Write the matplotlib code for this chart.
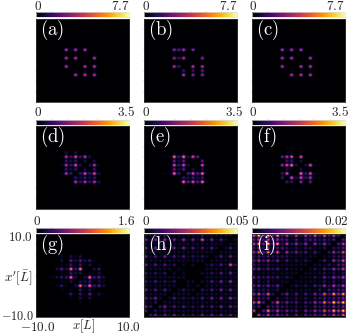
import numpy as np
import matplotlib
matplotlib.use('Agg')
import matplotlib.pyplot as plt

plt.rcParams['mathtext.fontset'] = 'cm'
plt.rcParams['font.family'] = 'serif'

W, H = 349, 334

names = ['(a)', '(b)', '(c)', '(d)', '(e)', '(f)', '(g)', '(h)', '(i)']
vmax_list = [7.7, 7.7, 7.7, 3.5, 3.5, 3.5, 1.6, 0.05, 0.02]
max_labels = ['7.7', '7.7', '7.7', '3.5', '3.5', '3.5', '1.6', '0.05', '0.02']
max_label_x = [120, 228, 335, 126, 234, 340, 126, 237, 336]
zero_label_x = [38, 146, 253, 38, 146, 253, 37, 146, 255]
level_power = [1.25, 1.25, 1.25, 1.25, 1.25, 1.25, 1.25, 1.0, 1.05]

# spots are (site x, site x', level), the mirror spot gets added below
spots_a = [(6, 12, 6), (8, 12, 6), (10, 12, 6), (6, 10, 6), (8, 10, 6), (6, 8, 6),
           (7, 12, 1), (7, 10, 1), (7, 8, 1)]
spots_b = [(6, 12, 5), (7, 12, 4), (8, 12, 6), (10, 12, 5), (6, 10, 5), (7, 10, 3),
           (8, 10, 6), (6, 8, 6), (7, 8, 3)]
spots_c = [(6, 12, 6), (8, 12, 6), (10, 12, 6), (6, 10, 6), (8, 10, 6), (6, 8, 6),
           (7, 12, 1), (7, 10, 1), (7, 8, 1)]
spots_d = [(5, 12, 1), (6, 13, 2), (8, 13, 2), (10, 13, 1), (6, 12, 6), (7, 12, 3), (8, 12, 7),
           (9, 12, 3), (10, 12, 6), (11, 12, 2), (6, 11, 3), (7, 11, 2), (8, 11, 3), (10, 11, 2),
           (5, 10, 1), (6, 10, 6), (7, 10, 3), (8, 10, 7), (9, 10, 2), (6, 9, 3), (7, 9, 2),
           (8, 9, 3), (5, 8, 1), (6, 8, 6), (7, 8, 3)]
spots_e = [(4, 12, 1), (4, 8, 1), (6, 13, 1), (8, 13, 1), (10, 13, 1), (6, 12, 8), (7, 12, 3),
           (8, 12, 8), (9, 12, 2), (10, 12, 7), (11, 12, 4), (6, 11, 4), (7, 11, 2), (8, 11, 4),
           (6, 10, 7), (7, 10, 3), (8, 10, 7), (9, 10, 2), (6, 9, 4), (7, 9, 2), (8, 9, 4),
           (6, 8, 8), (7, 8, 3), (5, 8, 1), (5, 12, 1), (5, 10, 1)]
spots_f = [(7, 14, 1), (8, 14, 1), (10, 14, 1), (7, 13, 1), (8, 13, 1), (10, 13, 1), (6, 12, 4),
           (7, 12, 6), (8, 12, 7), (10, 12, 7), (7, 11, 3), (8, 11, 3), (10, 11, 2), (4, 10, 1),
           (6, 10, 5), (7, 10, 7), (8, 10, 8), (9, 10, 2), (7, 9, 2), (4, 8, 1), (6, 8, 3),
           (7, 8, 7), (6, 7, 3)]
spots_g = [(5, 14, 1), (7, 14, 2), (8, 14, 1), (9, 14, 2), (5, 13, 2), (7, 13, 4), (8, 13, 2),
           (9, 13, 4), (10, 13, 2), (11, 13, 3), (12, 13, 1), (5, 12, 1), (6, 12, 1), (7, 12, 3),
           (8, 12, 1), (9, 12, 3), (10, 12, 1), (11, 12, 2), (4, 11, 2), (5, 11, 4), (6, 11, 2),
           (7, 11, 8), (8, 11, 3), (9, 11, 8), (10, 11, 1), (5, 10, 1), (6, 10, 1), (7, 10, 3),
           (8, 10, 2), (9, 10, 2), (3, 9, 1), (4, 9, 2), (5, 9, 3), (6, 9, 3), (7, 9, 8), (8, 9, 2),
           (5, 8, 1), (7, 8, 2), (4, 7, 1), (5, 7, 3), (6, 7, 1), (5, 6, 1)]

# dense panels: row m holds sites m+1 .. 19
tri_h = [[2, 3, 1, 3, 1, 3, 1, 2, 1, 2, 1, 3, 1, 3, 1, 3, 1, 3, 1],
         [2, 1, 2, 1, 1, 1, 1, 1, 1, 1, 1, 1, 1, 1, 1, 1, 1, 1],
         [2, 4, 1, 3, 1, 3, 1, 2, 1, 3, 1, 3, 1, 4, 1, 4, 2],
         [1, 1, 1, 1, 1, 1, 1, 1, 1, 1, 1, 1, 1, 1, 1, 1],
         [1, 3, 1, 2, 1, 2, 1, 3, 1, 4, 1, 4, 1, 5, 2],
         [1, 1, 1, 1, 0, 1, 1, 1, 1, 1, 1, 1, 1, 1],
         [1, 2, 1, 1, 0, 2, 1, 3, 1, 4, 1, 4, 1],
         [0, 1, 0, 1, 0, 1, 1, 1, 1, 1, 1, 1],
         [1, 1, 0, 1, 1, 3, 1, 4, 1, 5, 1],
         [0, 0, 0, 1, 1, 1, 1, 1, 1, 1],
         [0, 1, 1, 2, 1, 3, 1, 4, 1],
         [0, 1, 1, 1, 1, 1, 1, 1],
         [1, 2, 1, 3, 1, 7, 2],
         [1, 1, 1, 1, 1, 1],
         [1, 3, 1, 4, 1],
         [1, 1, 1, 1],
         [1, 3, 1],
         [1, 1],
         [1]]
tri_i = [[5, 2, 5, 2, 4, 2, 3, 1, 3, 1, 3, 2, 3, 2, 4, 2, 5, 3, 6],
         [3, 8, 3, 6, 2, 4, 2, 3, 1, 4, 2, 5, 3, 7, 4, 9, 6, 10],
         [3, 2, 3, 2, 2, 1, 2, 1, 2, 1, 3, 2, 3, 2, 4, 3, 4],
         [3, 7, 2, 4, 2, 3, 1, 3, 2, 5, 3, 8, 4, 10, 6, 10],
         [2, 1, 2, 1, 2, 1, 2, 1, 2, 2, 3, 2, 3, 3, 4],
         [2, 4, 1, 3, 1, 3, 1, 4, 2, 7, 3, 9, 5, 9],
         [1, 1, 1, 1, 1, 1, 1, 2, 1, 3, 2, 3, 3],
         [1, 2, 1, 2, 1, 3, 2, 5, 2, 6, 3, 6],
         [1, 1, 1, 1, 1, 1, 2, 1, 2, 1, 2],
         [1, 1, 1, 2, 1, 4, 2, 5, 3, 6],
         [1, 1, 1, 1, 2, 1, 2, 1, 2],
         [1, 2, 1, 3, 2, 5, 3, 6],
         [1, 1, 1, 2, 1, 3, 3],
         [1, 3, 1, 5, 3, 7],
         [1, 1, 2, 2, 3],
         [2, 5, 3, 7],
         [2, 2, 3],
         [3, 6],
         [3]]


def from_spots(spots):
    m = np.zeros((20, 20))
    for a, b, v in spots:
        m[b, a] = v
        m[a, b] = v
    return m


def from_tri(rows):
    m = np.zeros((20, 20))
    for i, row in enumerate(rows):
        for j, v in enumerate(row):
            m[i, i + 1 + j] = v
            m[i + 1 + j, i] = v
    return m


tables = [from_spots(s) for s in [spots_a, spots_b, spots_c, spots_d, spots_e, spots_f, spots_g]]
tables += [from_tri(tri_h), from_tri(tri_i)]

col_left = [36, 144, 252]
row_top = [19, 126, 234]
bar_top = [12, 120, 228]
label_base = [9.5, 116, 225]
ax_w, ax_h, bar_h = 93, 83, 5


def rect(x, y, w, h):
    return [x / W, 1 - (y + h) / H, w / W, h / H]


fig = plt.figure(figsize=(W / 100, H / 100), dpi=100)

for n in range(9):
    r, c = n // 3, n % 3
    ax = fig.add_axes(rect(col_left[c], row_top[r], ax_w, ax_h))
    ax.set_facecolor('black')
    # each site gets one cell with an empty cell in between, levels are not linear
    grid = np.zeros((40, 40))
    grid[::2, ::2] = 1.25 * (tables[n] / 8) ** level_power[n] * vmax_list[n]
    im = ax.imshow(grid, origin='lower', extent=(-9.85, 10.15, -9.85, 10.15), aspect='auto',
                   cmap='inferno', vmin=0, vmax=vmax_list[n], interpolation='gaussian',
                   interpolation_stage='data')
    ax.set_xlim(-10, 10)
    ax.set_ylim(-10, 10)
    ax.set_xticks(np.arange(-7.5, 8, 2.5))
    ax.set_yticks(np.arange(-7.5, 8, 2.5))
    ax.tick_params(length=1, width=0.3, color='#aaaaaa', labelbottom=False, labelleft=False)
    for s in ax.spines.values():
        s.set_linewidth(0.6)
        s.set_color('#333333')
    ax.text(0.04, 0.865, r'$\mathrm{' + names[n] + '}$', color='white', fontsize=13.5,
            transform=ax.transAxes, ha='left', va='center')

    cax = fig.add_axes(rect(col_left[c], bar_top[r], ax_w, bar_h))
    cb = fig.colorbar(im, cax=cax, orientation='horizontal')
    cb.outline.set_linewidth(0.5)
    cb.outline.set_edgecolor('#dddddd')
    cax.set_xticks(np.linspace(0, vmax_list[n], 7)[1:-1])
    cax.tick_params(axis='x', top=True, bottom=False, labelbottom=False, length=1, width=0.3,
                    color='#aaaaaa')
    fig.text(zero_label_x[n] / W, 1 - label_base[r] / H, '$0$', fontsize=9.5, ha='center',
             va='baseline', color='#222222')
    fig.text(max_label_x[n] / W, 1 - label_base[r] / H, '$' + max_labels[n] + '$', fontsize=9.5,
             ha='center', va='baseline', color='#222222')

# axis texts of panel (g) only
fig.text(33 / W, 1 - 241 / H, '$10.0$', fontsize=9.5, ha='right', va='baseline', color='#222222')
fig.text(33.5 / W, 1 - 320 / H, '$-10.0$', fontsize=8.8, ha='right', va='baseline', color='#222222')
fig.text(33 / W, 1 - 281 / H, r"$x'[\bar{L}]$", fontsize=9.5, ha='right', va='baseline', color='#222222')
fig.text(38 / W, 1 - 331 / H, '$-10.0$', fontsize=9.5, ha='center', va='baseline', color='#222222')
fig.text(84 / W, 1 - 329 / H, r'$x[\bar{L}]$', fontsize=9.2, ha='center', va='baseline', color='#222222')
fig.text(128 / W, 1 - 331 / H, '$10.0$', fontsize=9.5, ha='center', va='baseline', color='#222222')

fig.savefig('out.png', dpi=100)
